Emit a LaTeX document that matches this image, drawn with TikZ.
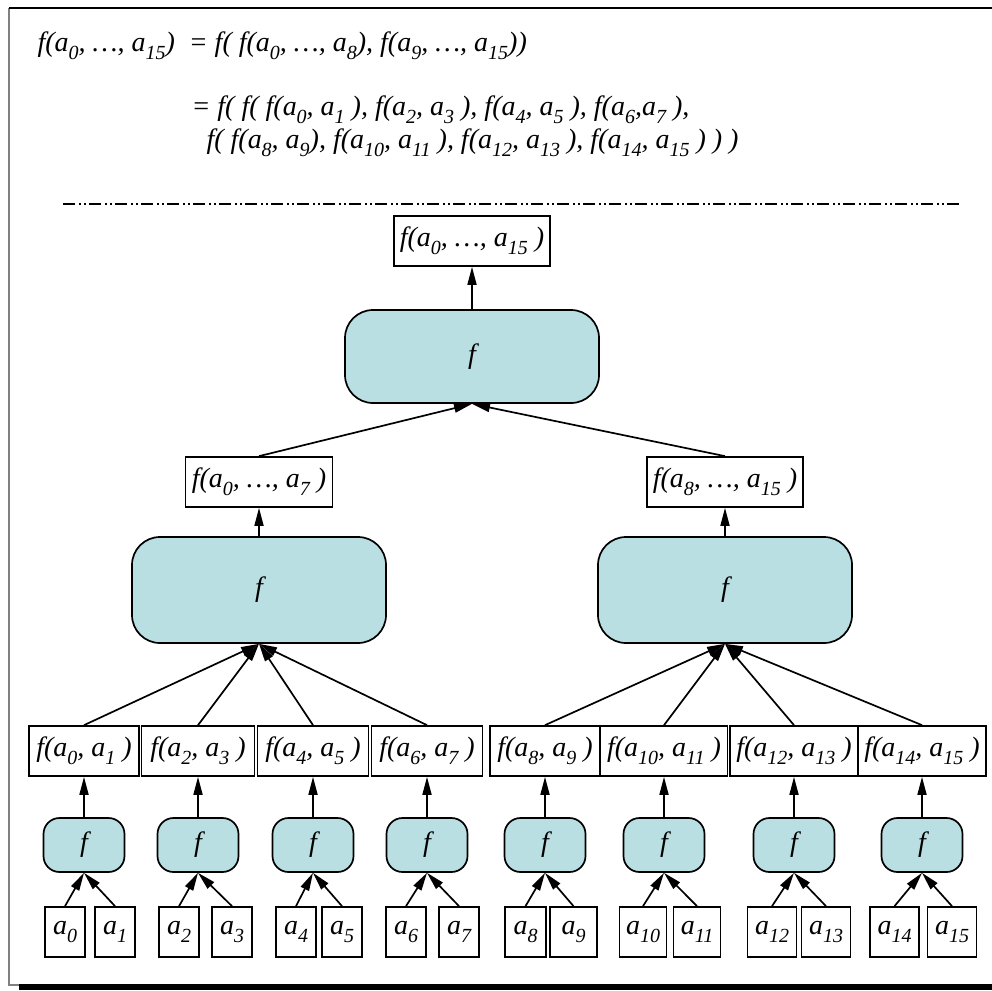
\documentclass[tikz,border=0pt]{standalone}
\usepackage{fontspec}
\newfontfamily\graphfont{Liberation Serif}
\usetikzlibrary{arrows.meta}
\definecolor{fnfill}{RGB}{185,223,227}
\newcommand\sbx[1]{\raisebox{-0.3em}{\fontsize{20}{21}\selectfont #1}}
\newcommand\av[1]{a\sbx{#1}}
\tikzset{
  txt/.style={font=\graphfont\fontsize{28}{33}\selectfont\itshape},
  val/.style={txt, draw, line width=1.7pt, fill=white, minimum height=50pt, inner sep=0pt},
  fn/.style={txt, draw, line width=1.7pt, fill=fnfill, rounded corners=#1, inner sep=0pt},
  fn/.default=16pt,
  arr/.style={line width=1.7pt, -{Triangle[length=18pt,width=9pt]}}
}
\begin{document}
\begin{tikzpicture}[x=1pt,y=-1pt]
  \useasboundingbox (0,0) rectangle (992,990);
  % frame
  \draw[gray, line width=1.2pt] (9,8) -- (9,985) -- (19,985);
  \draw[line width=1.8pt] (9,8) -- (992,8);
  \fill (19,984) rectangle (992,990);
  % formula
  \node[txt, anchor=west] (eq1) at (34,46)
    {f(\av{0}, \ldots, \av{15})\ \ = f( f(\av{0}, \ldots, \av{8}), f(\av{9}, \ldots, \av{15}))};
  \node[txt, anchor=west] (eq2) at (188,110)
    {= f( f( f(\av{0}, \av{1} ), f(\av{2}, \av{3} ), f(\av{4}, \av{5} ), f(\av{6},\av{7} ),};
  \node[txt, anchor=west] (eq3) at (203,143)
    {f( f(\av{8}, \av{9}), f(\av{10}, \av{11} ), f(\av{12}, \av{13} ), f(\av{14}, \av{15} ) ) )};
  % separator
  \draw[line width=1.5pt, dash pattern=on 12pt off 4pt on 2pt off 3pt on 2pt off 3pt]
    (63,204) -- (960,204);
  % leaves
  \foreach \i/\x/\w in {0/65/40pt,1/115/40pt,2/179/40pt,3/232/40pt,
                        4/296/40pt,5/342/40pt,6/406/40pt,7/459/40pt,
                        8/525.5/41pt,9/573.5/47pt,10/643/47pt,11/697/47pt,
                        12/772/49pt,13/826/49pt,14/894.5/49pt,15/952/49pt}
    \node[val, minimum width=\w] (a\i) at (\x,932) {\av{\i}};
  % first level
  \foreach \i/\x/\w in {0/84/110pt,1/198/113pt,2/313/111pt,3/427/111pt,
                        4/545/110pt,5/664/127pt,6/794/128pt,7/922/128pt}{
    \pgfmathtruncatemacro\j{2*\i}
    \pgfmathtruncatemacro\k{2*\i+1}
    \node[fn, minimum width=81pt, minimum height=54pt] (p\i) at (\x,845) {f};
    \node[val, minimum width=\w] (r\i) at (\x,751) {f(\av{\j}, \av{\k} )};
    \draw[arr] (a\j.north) -- (p\i.south);
    \draw[arr] (a\k.north) -- (p\i.south);
    \draw[arr] (p\i.north) -- (r\i.south);
  }
  % second level
  \node[fn=28pt, minimum width=254pt, minimum height=106pt] (m0) at (259,590) {f};
  \node[fn=28pt, minimum width=254pt, minimum height=106pt] (m1) at (725,590) {f};
  \node[val, minimum width=147pt] (h0) at (259,482) {f(\av{0}, \ldots, \av{7} )};
  \node[val, minimum width=156pt] (h1) at (725,482) {f(\av{8}, \ldots, \av{15} )};
  \foreach \i in {0,...,3}
    \draw[arr] (r\i.north) -- (m0.south);
  \foreach \i in {4,...,7}
    \draw[arr] (r\i.north) -- (m1.south);
  \draw[arr] (m0.north) -- (h0.south);
  \draw[arr] (m1.north) -- (h1.south);
  % top
  \node[fn=28pt, minimum width=254pt, minimum height=93pt] (t) at (472,356.5) {f};
  \node[val, minimum width=156pt] (top) at (472,241) {f(\av{0}, \ldots, \av{15} )};
  \draw[arr] (h0.north) -- (t.south);
  \draw[arr] (h1.north) -- (t.south);
  \draw[arr] (t.north) -- (top.south);
\end{tikzpicture}
\end{document}
